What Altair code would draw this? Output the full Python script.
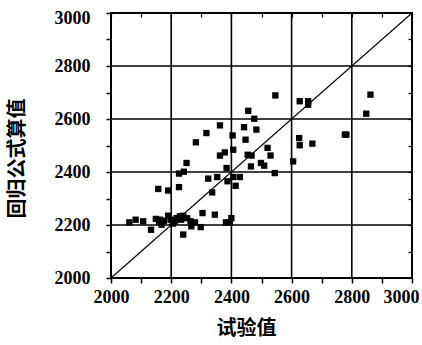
import altair as alt
import pandas as pd

# experimental values (x) and regression-formula values (y)
test_vals = [2546, 2627, 2655, 2655, 2862, 2848, 2777, 2782, 2625, 2627,
             2669, 2605, 2456, 2476, 2362, 2317, 2282, 2442, 2483, 2404,
             2447, 2406, 2378, 2362, 2454, 2467, 2520, 2530, 2465, 2498,
             2509, 2544, 2251, 2242, 2226, 2384, 2323, 2353, 2387, 2406,
             2428, 2414, 2226, 2157, 2190, 2336, 2304, 2345, 2382, 2400,
             2395, 2061, 2082, 2107, 2133, 2149, 2160, 2176, 2190, 2198,
             2205, 2218, 2229, 2240, 2253, 2264, 2267, 2279, 2298, 2240,
             2168, 2163, 2212, 2233]
calc_vals = [2689, 2667, 2667, 2654, 2692, 2620, 2541, 2541, 2528, 2501,
             2507, 2440, 2631, 2601, 2576, 2547, 2512, 2569, 2560, 2538,
             2522, 2484, 2474, 2462, 2465, 2462, 2491, 2462, 2421, 2434,
             2424, 2396, 2434, 2401, 2394, 2415, 2375, 2381, 2365, 2381,
             2381, 2348, 2343, 2336, 2330, 2323, 2245, 2239, 2210, 2226,
             2210, 2210, 2220, 2214, 2182, 2223, 2210, 2216, 2235, 2220,
             2205, 2226, 2233, 2235, 2226, 2214, 2195, 2210, 2192, 2164,
             2201, 2220, 2214, 2220]
grid_vals = [2200, 2400, 2600, 2800]
tick_vals = list(range(2000, 3001, 100))
line_ends = [2000, 3000]

pts = pd.DataFrame({"x": test_vals, "y": calc_vals})
diag = pd.DataFrame({"x": line_ends, "y": line_ends})
grid = pd.DataFrame({"v": grid_vals})

num_font = "Liberation Serif"
cjk_font = "Noto Sans CJK SC"

xs = alt.Scale(domain=[2000, 3000], nice=False, zero=False)
ys = alt.Scale(domain=[2000, 3000], nice=False, zero=False)

label_expr = "datum.value % 200 == 0 ? datum.label : ''"

x_axis = alt.Axis(
    values=tick_vals, format="d", labelExpr=label_expr, grid=False,
    labelOverlap=False, labelFlush=False,
    domain=False, tickColor="black", tickSize=5, tickWidth=1.5,
    labelFont=num_font, labelFontWeight="bold", labelFontSize=18,
    labelColor="black", labelPadding=5,
    labelOffset={"condition": {"test": "datum.value == 3000", "value": -11}, "value": 0},
    title="试验值", titleFont=cjk_font, titleFontWeight="bold", titleFontSize=20,
    titleColor="black", titleX=135, titleY=50, titleAlign="center", titleBaseline="middle",
)
y_axis = alt.Axis(
    values=tick_vals, format="d", labelExpr=label_expr, grid=False,
    labelOverlap=False, labelFlush=False,
    domain=False, tickColor="black", tickSize=5, tickWidth=1.5,
    labelFont=num_font, labelFontWeight="bold", labelFontSize=18,
    labelColor="black", labelPadding=16,
    labelOffset={"condition": {"test": "datum.value == 3000", "value": 5}, "value": 0},
    title="回归公式算值", titleFont=cjk_font, titleFontWeight="bold", titleFontSize=20,
    titleColor="black", titleX=-94, titleY=145, titleAlign="center", titleBaseline="middle",
    titleAngle=270,
)
inner_common = dict(values=tick_vals, labels=False, title=None, grid=False,
                    domain=False, tickColor="black", tickSize=4, tickWidth=1.2,
                    offset=-4)
top_axis = alt.Axis(orient="top", **inner_common)
right_axis = alt.Axis(orient="right", **inner_common)

vgrid = alt.Chart(grid).mark_rule(color="black", strokeWidth=1.6).encode(
    x=alt.X("v:Q", scale=xs, axis=x_axis)
)
hgrid = alt.Chart(grid).mark_rule(color="black", strokeWidth=1.6).encode(
    y=alt.Y("v:Q", scale=ys, axis=y_axis)
)
line = alt.Chart(diag).mark_line(color="black", strokeWidth=1.1).encode(
    x=alt.X("x:Q", scale=xs, axis=top_axis),
    y=alt.Y("y:Q", scale=ys, axis=right_axis),
)
points = alt.Chart(pts).mark_square(color="black", size=40, opacity=1).encode(
    x=alt.X("x:Q", scale=xs, axis=None),
    y=alt.Y("y:Q", scale=ys, axis=None),
)

chart = alt.layer(vgrid, hgrid, line, points).resolve_axis(
    x="independent", y="independent"
).properties(
    width=301, height=265,
    autosize=alt.AutoSizeParams(type="none"),
    padding={"left": 111, "top": 13, "right": 10, "bottom": 67},
    background="white",
).configure_view(stroke="black", strokeWidth=2)

chart.save("out.html", embed_options={"renderer": "svg", "actions": False})
